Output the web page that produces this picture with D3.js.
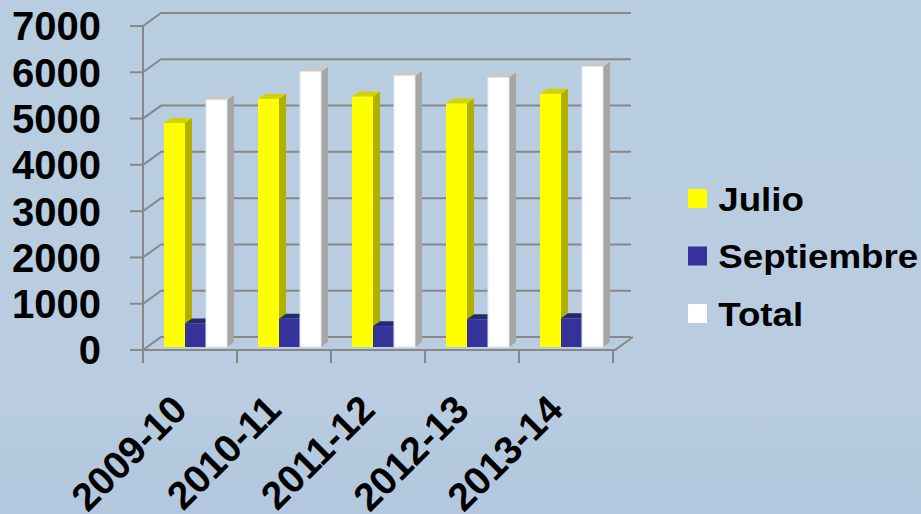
<!DOCTYPE html>
<html>
<head>
<meta charset="utf-8">
<script src="https://cdn.jsdelivr.net/npm/d3@7"></script>
<style>
  html, body { margin: 0; padding: 0; }
  body { width: 921px; height: 514px; overflow: hidden; }
  svg { display: block; font-family: "Liberation Sans", Arial, sans-serif; font-weight: bold; }
</style>
</head>
<body>
<div id="chart"></div>
<script>
const seasons = ['2009-10', '2010-11', '2011-12', '2012-13', '2013-14'];
const seriesNames = ['Julio', 'Septiembre', 'Total'];
const julio = [4840, 5360, 5410, 5260, 5470];
const septiembre = [510, 610, 450, 600, 620];
const total = [5340, 5950, 5860, 5820, 6060];
const yTicks = [0, 1000, 2000, 3000, 4000, 5000, 6000, 7000];

const width = 921;
const height = 514;

// front / top / side colours for each series
const colors = {
  Julio: { front: '#ffff00', side: '#b0b000', top: '#d2d200' },
  Septiembre: { front: '#333399', side: '#222266', top: '#28286e' },
  Total: { front: '#ffffff', side: '#a6a6a6', top: '#c9c9c9' }
};

const svg = d3.select('#chart')
  .append('svg')
  .attr('width', width)
  .attr('height', height);

const defs = svg.append('defs');
const bg = defs.append('linearGradient')
  .attr('id', 'bg')
  .attr('x1', '0%').attr('y1', '0%')
  .attr('x2', '0%').attr('y2', '100%');
bg.append('stop').attr('offset', '0%').attr('stop-color', '#b9cde0');
bg.append('stop').attr('offset', '80%').attr('stop-color', '#b9cce0');
bg.append('stop').attr('offset', '88%').attr('stop-color', '#b4c9de');
bg.append('stop').attr('offset', '100%').attr('stop-color', '#b3c8de');

svg.append('rect')
  .attr('width', width)
  .attr('height', height)
  .attr('fill', 'url(#bg)');

// 3d offsets: back wall and bar depth
const wall = { dx: 18, dy: -13 };
const depth = { dx: 7, dy: -5 };
const barShift = { dx: 4, dy: -3 };

const x0 = d3.scaleBand()
  .domain(seasons)
  .range([143, 613]);

const x1 = d3.scaleBand()
  .domain(seriesNames)
  .range([17, 80]);

const y = d3.scaleLinear()
  .domain([0, 7000])
  .range([350, 26]);

const grid = svg.append('g')
  .attr('stroke', '#878787')
  .attr('stroke-width', 2)
  .attr('fill', 'none');

// back wall gridlines with the left side diagonals
yTicks.forEach(t => {
  const yy = y(t);
  grid.append('path')
    .attr('d', `M${x0.range()[0]},${yy}L${x0.range()[0] + wall.dx},${yy + wall.dy}L${x0.range()[1] + wall.dx},${yy + wall.dy}`);
  grid.append('line')
    .attr('x1', 130).attr('x2', x0.range()[0])
    .attr('y1', yy).attr('y2', yy);
});

// left axis line
grid.append('line')
  .attr('x1', 143).attr('x2', 143)
  .attr('y1', y(7000)).attr('y2', y(0) + 13);

// floor front edge
grid.append('path')
  .attr('d', `M${x0.range()[0]},${y(0)}L${x0.range()[1] + 2},${y(0)}L${x0.range()[1] + 2 + wall.dx},${y(0) + wall.dy}`);

// category ticks
const tickPos = seasons.map(s => x0(s)).concat([x0.range()[1]]);
tickPos.forEach(tx => {
  grid.append('line')
    .attr('x1', tx).attr('x2', tx)
    .attr('y1', y(0)).attr('y2', y(0) + 13);
});

// bars
const barData = [];
seasons.forEach((s, i) => {
  barData.push({ season: s, series: 'Julio', value: julio[i] });
  barData.push({ season: s, series: 'Septiembre', value: septiembre[i] });
  barData.push({ season: s, series: 'Total', value: total[i] });
});

const bw = x1.bandwidth();
const bars = svg.append('g').attr('id', 'bars')
  .selectAll('g')
  .data(barData)
  .enter().append('g');

const bx = d => x0(d.season) + x1(d.series) + barShift.dx;
const byTop = d => y(d.value) + barShift.dy;
const byBase = () => y(0) + barShift.dy;

bars.append('path')
  .attr('d', d => {
    const xr = bx(d) + bw;
    return `M${xr},${byTop(d)}L${xr + depth.dx},${byTop(d) + depth.dy}L${xr + depth.dx},${byBase() + depth.dy}L${xr},${byBase()}Z`;
  })
  .attr('fill', d => colors[d.series].side);

bars.append('path')
  .attr('d', d => {
    const xl = bx(d);
    const yt = byTop(d);
    return `M${xl},${yt}L${xl + depth.dx},${yt + depth.dy}L${xl + bw + depth.dx},${yt + depth.dy}L${xl + bw},${yt}Z`;
  })
  .attr('fill', d => colors[d.series].top);

bars.append('rect')
  .attr('x', bx)
  .attr('y', byTop)
  .attr('width', bw)
  .attr('height', d => byBase() - byTop(d))
  .attr('fill', d => colors[d.series].front)
  .attr('stroke', d => d.series === 'Total' ? '#dfe8f2' : 'none')
  .attr('stroke-width', 1);

// y axis labels
svg.append('g')
  .selectAll('text')
  .data(yTicks)
  .enter().append('text')
  .attr('x', 101)
  .attr('y', d => y(d))
  .attr('dy', '0.36em')
  .attr('text-anchor', 'end')
  .style('font-size', '40px')
  .attr('fill', '#000')
  .text(d => d);

// x axis labels
svg.append('g')
  .selectAll('text')
  .data(seasons)
  .enter().append('text')
  .attr('transform', d => `translate(${x0(d) + x0.bandwidth() / 2 - 1},${412}) rotate(-45)`)
  .attr('text-anchor', 'end')
  .style('font-size', '39px')
  .attr('fill', '#000')
  .text(d => d);

// legend
const legend = svg.append('g')
  .selectAll('g')
  .data(seriesNames)
  .enter().append('g')
  .attr('transform', (d, i) => `translate(688,${189 + i * 57.5})`);

legend.append('rect')
  .attr('width', 19)
  .attr('height', 19)
  .attr('fill', d => colors[d].front);

legend.append('text')
  .attr('x', 28)
  .attr('y', 9.5)
  .attr('dy', '0.36em')
  .attr('transform', 'scale(1.08,1)')
  .style('font-size', '34px')
  .attr('fill', '#000')
  .text(d => d);
</script>
</body>
</html>
